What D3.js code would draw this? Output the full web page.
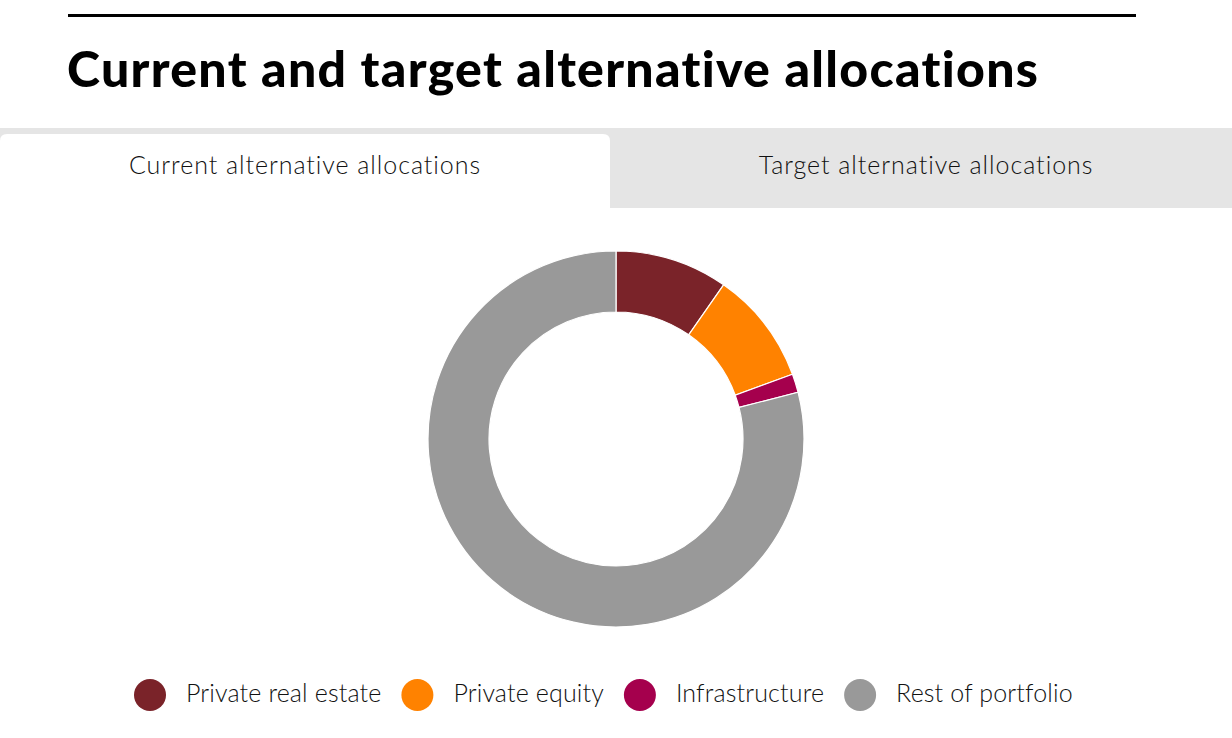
<!DOCTYPE html>
<html><head><meta charset="utf-8">
<script src="https://cdn.jsdelivr.net/npm/d3@7"></script>
<style>
html,body{margin:0;padding:0;background:#fff;}
svg{display:block;}
</style></head>
<body>
<svg id="chart" width="1232" height="738"></svg>
<script>
const title = "Current and target alternative allocations";
const tabs = ["Current alternative allocations", "Target alternative allocations"];
const categories = ["Private real estate", "Private equity", "Infrastructure", "Rest of portfolio"];
const values = [9.7, 9.7, 1.6, 79.0];
const colors = ["#7A2329", "#FF8200", "#A5004D", "#999999"];

const svg = d3.select("#chart");
const W = 1232;

// top rule
svg.append("rect").attr("x", 68).attr("y", 14).attr("width", 1068).attr("height", 3).attr("fill", "#000");

// title
svg.append("text").attr("x", 67).attr("y", 87)
  .attr("font-family", "Lato").attr("font-weight", 900).attr("font-size", 50)
  .attr("letter-spacing", 1.3)
  .attr("fill", "#000").text(title);

// tab bar
svg.append("rect").attr("x", 0).attr("y", 128).attr("width", W).attr("height", 80).attr("fill", "#E5E5E5");
const r = 7;
svg.append("path")
  .attr("d", `M0,208 L0,${134 + r} Q0,134 ${r},134 L${610 - r},134 Q610,134 610,${134 + r} L610,208 Z`)
  .attr("fill", "#fff");
svg.selectAll("text.tab").data(tabs).join("text").attr("class", "tab")
  .attr("x", (d, i) => i === 0 ? 305 : 926)
  .attr("y", 174)
  .attr("text-anchor", "middle")
  .attr("font-family", "Lato").attr("font-weight", 300).attr("font-size", 25)
  .attr("letter-spacing", 0.95)
  .attr("fill", "#111").text(d => d);

// donut
const cx = 616, cy = 439, outerR = 188, innerR = 127;
const pie = d3.pie().sort(null).value(d => d.v);
const arc = d3.arc().innerRadius(innerR).outerRadius(outerR);
const data = categories.map((c, i) => ({c, v: values[i], col: colors[i]}));
svg.append("g").attr("transform", `translate(${cx},${cy})`)
  .selectAll("path").data(pie(data)).join("path")
  .attr("d", arc).attr("fill", d => d.data.col)
  .attr("stroke", "#fff").attr("stroke-width", 1.2);

// legend
const lg = svg.append("g");
let x = 134;
categories.forEach((c, i) => {
  lg.append("circle").attr("cx", x + 16).attr("cy", 695).attr("r", 16).attr("fill", colors[i]);
  const t = lg.append("text").attr("x", x + 52).attr("y", 702)
    .attr("font-family", "Lato").attr("font-weight", 300).attr("font-size", 25)
    .attr("letter-spacing", 0.15)
    .attr("fill", "#111").text(c);
  x = x + 52 + t.node().getComputedTextLength() + 20;
});
</script>
</body></html>
